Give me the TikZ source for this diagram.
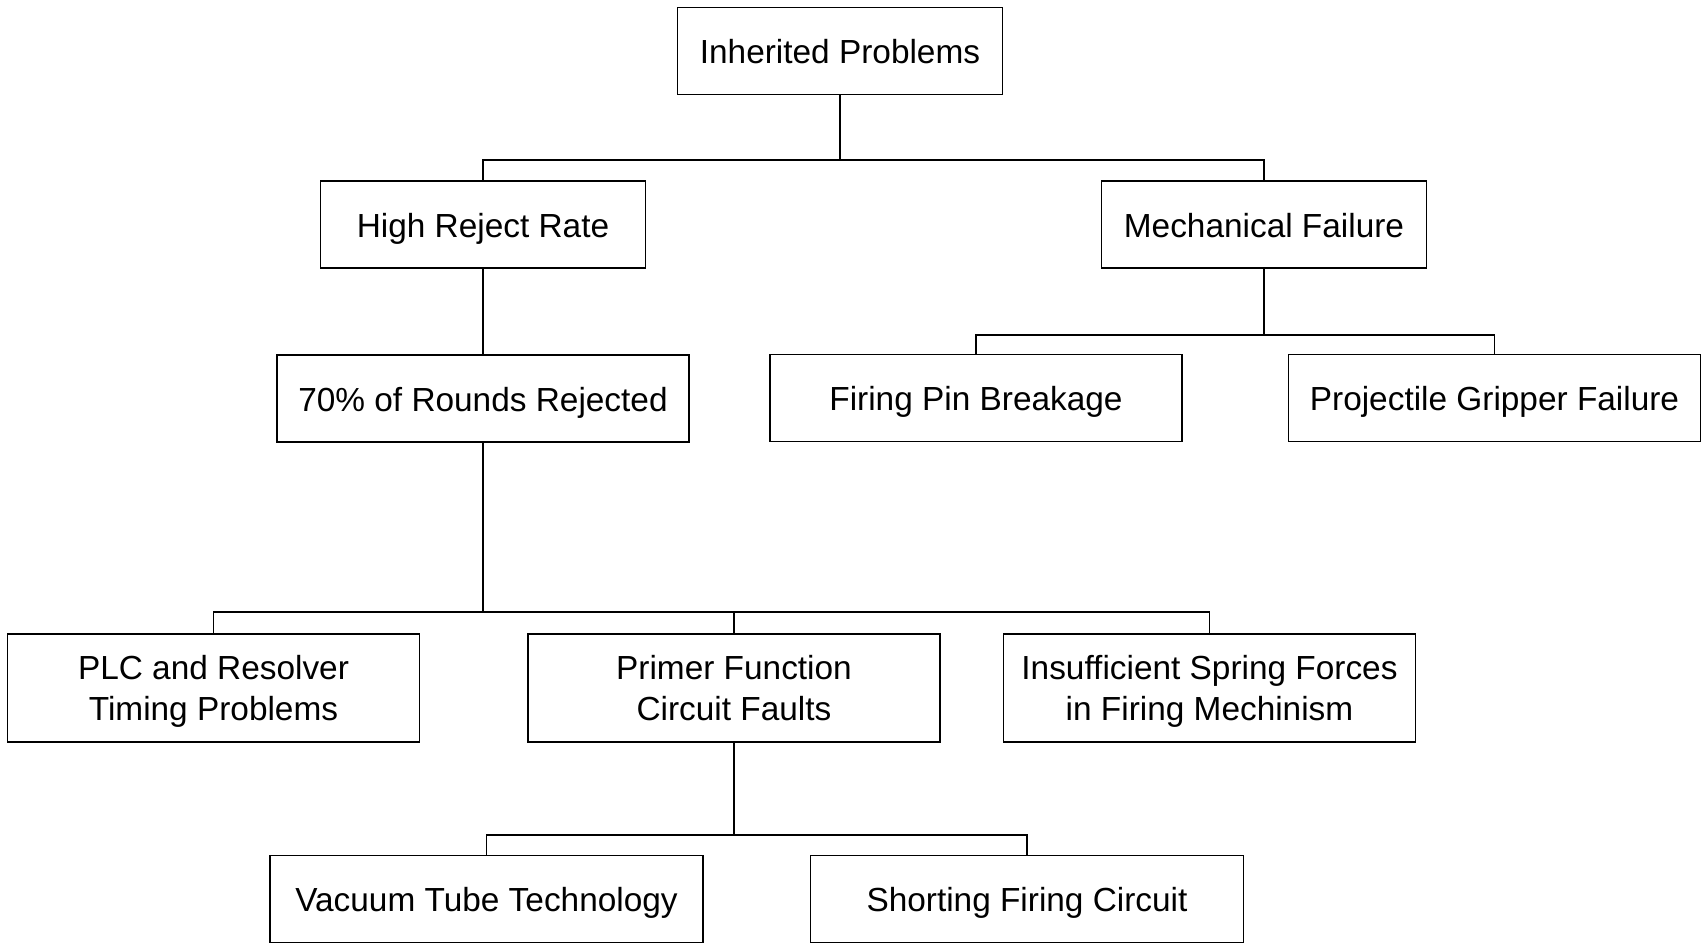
\documentclass[tikz,border=0pt]{standalone}
\usepackage{fontspec}
\setmainfont{Liberation Sans}
\begin{document}
\begin{tikzpicture}[
  box/.style={draw, line width=0.5pt, rectangle, align=center, inner sep=0pt,
    text height=0.72em, text depth=0pt,
    font=\fontsize{9.5}{11.75}\selectfont, minimum width=3.25cm, minimum height=0.87cm},
  widebox/.style={box, minimum width=4.12cm},
  tallbox/.style={widebox, minimum height=1.08cm, text height=18.6pt},
  link/.style={draw, line width=0.5pt}
]
\useasboundingbox (0,0) rectangle (17.05,9.49);

% niveau 1
\node[box] (ip) at (8.40,8.98) {Inherited Problems};

% niveau 2
\node[box] (hr) at (4.83,7.245) {High Reject Rate};
\node[box] (mf) at (12.64,7.245) {Mechanical Failure};

% niveau 3
\node[widebox] (rr) at (4.83,5.505) {70\% of Rounds Rejected};
\node[widebox] (fp) at (9.76,5.51) {Firing Pin Breakage};
\node[widebox] (pg) at (14.945,5.51) {Projectile Gripper Failure};

% niveau 4
\node[tallbox] (plc) at (2.135,2.61) {PLC and Resolver\\Timing Problems};
\node[tallbox] (pf) at (7.34,2.61) {Primer Function\\Circuit Faults};
\node[tallbox] (isf) at (12.095,2.61) {Insufficient Spring Forces\\in Firing Mechinism};

% niveau 5
\node[widebox, minimum width=4.33cm] (vt) at (4.865,0.5) {Vacuum Tube Technology};
\node[widebox, minimum width=4.33cm] (sf) at (10.27,0.5) {Shorting Firing Circuit};

% liaisons parent -> enfants
\foreach \p/\d/\kids in {ip/0.65/{hr,mf}, mf/0.66/{fp,pg}, rr/1.695/{plc,pf,isf}, pf/0.92/{vt,sf}} {
  \foreach \k in \kids {
    \draw[link] (\p.south) -- ++(0,-\d) -| (\k.north);
  }
}
\draw[link] (hr.south) -- (rr.north);
\end{tikzpicture}
\end{document}
